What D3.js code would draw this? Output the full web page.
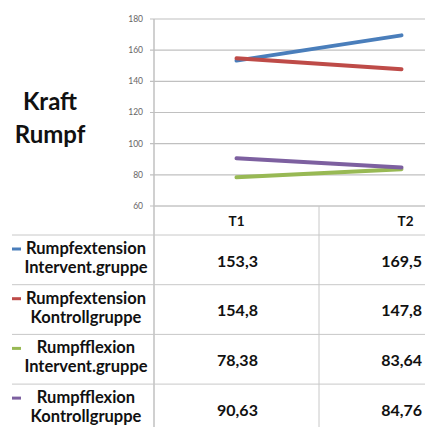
<!DOCTYPE html>
<html><head><meta charset="utf-8">
<script src="https://cdn.jsdelivr.net/npm/d3@7"></script>
<style>body{margin:0;background:#fff}svg{display:block}</style>
</head><body>
<script>
const categories = ["T1", "T2"];
const seriesNames = [["Rumpfextension", "Intervent.gruppe"], ["Rumpfextension", "Kontrollgruppe"], ["Rumpfflexion", "Intervent.gruppe"], ["Rumpfflexion", "Kontrollgruppe"]];
const seriesValues = [[153.3, 169.5], [154.8, 147.8], [78.38, 83.64], [90.63, 84.76]];
const valueLabels = [["153,3", "169,5"], ["154,8", "147,8"], ["78,38", "83,64"], ["90,63", "84,76"]];
const seriesColors = ["#4a7ebb", "#be4b48", "#98b954", "#7d60a0"];
const yTicks = [60, 80, 100, 120, 140, 160, 180];
const title = ["Kraft", "Rumpf"];

const W = 425, H = 427;
const svg = d3.select("body").append("svg").attr("width", W).attr("height", H);
const font = "Lato, 'Open Sans', sans-serif";

const x = d3.scaleBand().domain(categories).range([154, 484]);
const y = d3.scaleLinear().domain([60, 180]).range([206, 19]);

// gridlines
svg.append("g").selectAll("line").data(yTicks).join("line")
  .attr("x1", 150).attr("x2", W).attr("y1", d => y(d)).attr("y2", d => y(d))
  .attr("stroke", "#c0c0c0").attr("stroke-width", 1.2);

// y axis line
svg.append("line").attr("x1", 154).attr("x2", 154).attr("y1", y(180)).attr("y2", H)
  .attr("stroke", "#c0c0c0").attr("stroke-width", 1.5);

// tick labels
svg.append("g").selectAll("text").data(yTicks).join("text")
  .attr("x", 143).attr("y", d => y(d)).attr("dy", "0.35em")
  .attr("text-anchor", "end").attr("font-family", font).attr("font-size", 8.5)
  .attr("fill", "#666").text(d => d);

// title
svg.append("g").selectAll("text").data(title).join("text")
  .attr("x", 50).attr("y", (d, i) => 110 + i * 33).attr("text-anchor", "middle")
  .attr("font-family", font).attr("font-weight", "bold").attr("font-size", 24)
  .attr("fill", "#111").text(d => d);

// lines
const line = d3.line().x((d, i) => x(categories[i]) + x.bandwidth() / 2).y(d => y(d));
svg.append("g").selectAll("path").data(seriesValues).join("path")
  .attr("d", line).attr("fill", "none").attr("stroke", (d, i) => seriesColors[i])
  .attr("stroke-width", 4).attr("stroke-linecap", "round");

// table
const rowTop = 235, rowH = 49.7;
svg.append("line").attr("x1", 154).attr("x2", W).attr("y1", 206).attr("y2", 206)
  .attr("stroke", "#c8c8c8").attr("stroke-width", 1);
svg.append("g").selectAll("line").data(seriesNames).join("line")
  .attr("x1", 12).attr("x2", W).attr("y1", (d, i) => rowTop + i * rowH).attr("y2", (d, i) => rowTop + i * rowH)
  .attr("stroke", "#c8c8c8").attr("stroke-width", 1);
svg.append("line").attr("x1", x("T2")).attr("x2", x("T2")).attr("y1", 206).attr("y2", H)
  .attr("stroke", "#c8c8c8").attr("stroke-width", 1);

// header
svg.append("g").selectAll("text").data(categories).join("text")
  .attr("x", d => x(d) + x.bandwidth() / 2 + (d === "T2" ? 4 : 0)).attr("y", 221).attr("dy", "0.35em")
  .attr("text-anchor", "middle").attr("font-family", font).attr("font-weight", "bold")
  .attr("font-size", 13.5).attr("fill", "#111").text(d => d);

// row labels
const rows = svg.append("g").selectAll("g").data(seriesNames).join("g")
  .attr("transform", (d, i) => `translate(0,${rowTop + i * rowH})`);
rows.append("line").attr("x1", 12).attr("x2", 21).attr("y1", 14).attr("y2", 14)
  .attr("stroke", (d, i) => seriesColors[i]).attr("stroke-width", 3);
rows.each(function (d) {
  d3.select(this).selectAll("text").data(d).join("text")
    .attr("x", 86).attr("y", (t, j) => 19 + j * 19).attr("text-anchor", "middle")
    .attr("font-family", font).attr("font-weight", "bold").attr("font-size", 16.5)
    .attr("fill", "#111").text(t => t);
});
rows.each(function (d, i) {
  d3.select(this).selectAll("text.v").data(valueLabels[i]).join("text").attr("class", "v")
    .attr("x", (t, j) => j === 1 ? 422 : x(categories[j]) + x.bandwidth() / 2 + 1)
    .attr("y", 26).attr("dy", "0.35em").attr("text-anchor", (t, j) => j === 1 ? "end" : "middle")
    .attr("font-family", font).attr("font-weight", "bold").attr("font-size", 16)
    .attr("fill", "#111").text(t => t);
});
</script>
</body></html>
